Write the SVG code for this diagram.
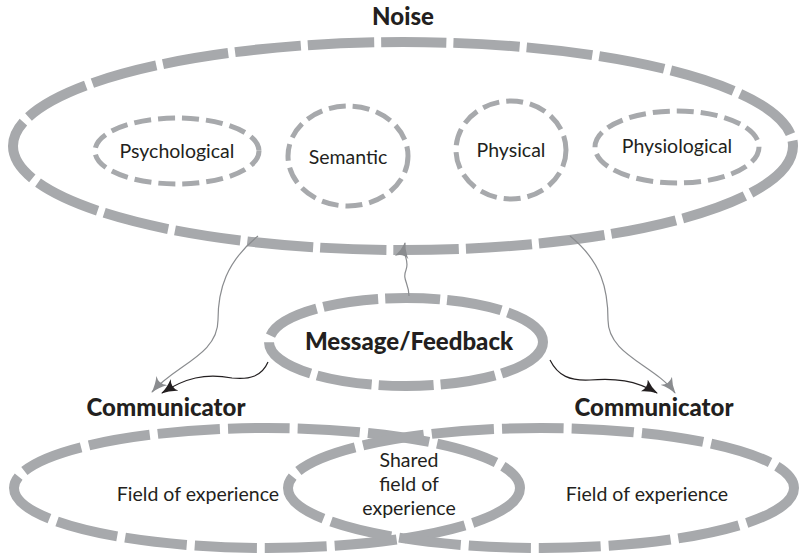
<svg xmlns="http://www.w3.org/2000/svg" width="801" height="553" viewBox="0 0 801 553">
  <style>
    .big { fill: none; stroke: #a7a9ac; stroke-width: 10; }
    .small { fill: none; stroke: #a7a9ac; stroke-width: 5; stroke-dasharray: 17 7; }
    .lbl { font-family: Lato, "Open Sans", sans-serif; font-size: 19.5px; fill: #231f20; text-anchor: middle; }
    .hd { font-family: Lato, "Open Sans", sans-serif; font-size: 24px; font-weight: 900; fill: #231f20; text-anchor: middle; }
    .gline { fill: none; stroke: #8a8c8f; stroke-width: 1.2; }
    .bline { fill: none; stroke: #231f20; stroke-width: 1.2; }
  </style>
  <defs>
    <marker id="ag" viewBox="0 0 16 14" refX="15" refY="7" markerWidth="16" markerHeight="14" markerUnits="userSpaceOnUse" orient="auto">
      <path d="M0,0 Q7,5 16,7 Q7,9 0,14 Q5,7 0,0 Z" fill="#8a8c8f"/>
    </marker>
    <marker id="ab" viewBox="0 0 16 14" refX="15" refY="7" markerWidth="16" markerHeight="14" markerUnits="userSpaceOnUse" orient="auto">
      <path d="M0,0 Q7,5 16,7 Q7,9 0,14 Q5,7 0,0 Z" fill="#231f20"/>
    </marker>
  </defs>

  <!-- noise field with its four kinds -->
  <g id="noise">
    <text class="hd" x="403" y="25" font-size="20">Noise</text>
    <ellipse class="big" cx="403" cy="146" rx="390" ry="104" stroke-dasharray="66 7"/>
  </g>
  <g id="psychological">
    <ellipse class="small" cx="177" cy="151" rx="82" ry="33"/>
    <text class="lbl" x="177" y="158">Psychological</text>
  </g>
  <g id="semantic">
    <ellipse class="small" cx="348" cy="156" rx="60" ry="50"/>
    <text class="lbl" x="348" y="164">Semantic</text>
  </g>
  <g id="physical">
    <ellipse class="small" cx="511" cy="150" rx="55" ry="49"/>
    <text class="lbl" x="511" y="157">Physical</text>
  </g>
  <g id="physiological">
    <ellipse class="small" cx="677" cy="147" rx="82" ry="36"/>
    <text class="lbl" x="677" y="153">Physiological</text>
  </g>

  <!-- message / feedback -->
  <g id="message">
    <ellipse class="big" cx="406" cy="342" rx="137" ry="44" stroke-dasharray="55 7"/>
    <text class="hd" x="409" y="350">Message/Feedback</text>
  </g>

  <!-- communicators: two overlapping fields of experience -->
  <g id="communicator-left">
    <text class="hd" x="166" y="416">Communicator</text>
    <ellipse class="big" cx="267" cy="488" rx="253" ry="60" stroke-dasharray="62 8"/>
    <text class="lbl" x="198" y="501">Field of experience</text>
  </g>
  <g id="communicator-right">
    <text class="hd" x="654" y="416">Communicator</text>
    <ellipse class="big" cx="541" cy="488" rx="253" ry="60" stroke-dasharray="62 8"/>
    <text class="lbl" x="647" y="501">Field of experience</text>
  </g>
  <g id="shared">
    <text class="lbl" x="409" y="467">Shared</text>
    <text class="lbl" x="409" y="491">field of</text>
    <text class="lbl" x="409" y="515">experience</text>
  </g>

  <g id="connectors">
    <path class="gline" d="M258,236 C226,262 218,290 218,320 C218,355 175,365 152,392" marker-end="url(#ag)"/>
    <path class="gline" d="M570,236 C602,262 608,290 608,320 C608,355 655,365 675,393" marker-end="url(#ag)"/>
    <path class="gline" d="M409,296 C409,283 402,280 406,270 C410,260 402,256 405,243" marker-end="url(#ag)"/>
    <path class="bline" d="M268,362 C262,376 250,380 232,378 C205,373 185,378 162,393" marker-end="url(#ab)"/>
    <path class="bline" d="M550,360 C558,376 570,381 590,380 C615,378 635,380 657,393" marker-end="url(#ab)"/>
  </g>
</svg>
